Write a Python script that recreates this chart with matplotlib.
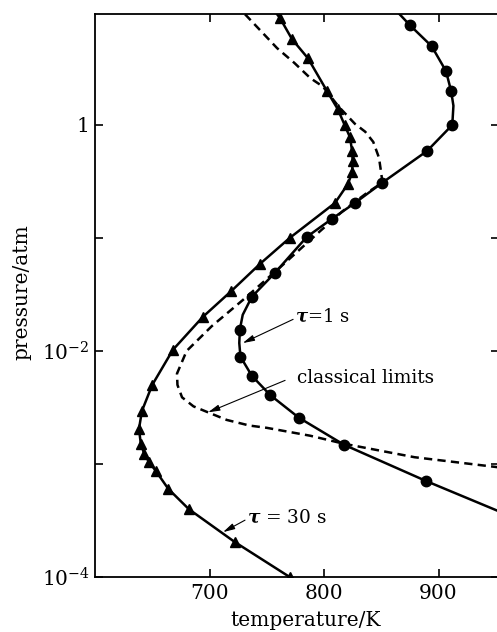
import matplotlib
matplotlib.use("Agg")
import matplotlib.pyplot as plt
import numpy as np

plt.rcParams["font.family"] = ["DejaVu Serif"]
plt.rcParams["mathtext.fontset"] = "dejavuserif"

# tau = 1 s curve: temperature / K and log10(pressure / atm)
t1_temp = [866, 875, 894, 906.5, 911, 913, 912, 890, 851, 827, 807, 785,
           757, 737, 729, 726.5, 726, 727, 737, 753, 778, 817.5, 889, 953]
t1_logp = [0.98, 0.883, 0.697, 0.477, 0.30, 0.17, 0.0, -0.23, -0.51, -0.69,
           -0.83, -0.99, -1.31, -1.52, -1.68, -1.81, -1.93, -2.05, -2.22,
           -2.39, -2.59, -2.83, -3.15, -3.42]
t1_marks = [1, 2, 3, 4, 6, 7, 8, 9, 10, 11, 12, 13, 15, 17, 18, 19, 20, 21, 22]

# tau = 30 s curve
t30_temp = [759, 761.6, 772, 786, 802.6, 812, 818, 822.7, 824.5, 825, 824.5,
            821, 809.6, 770, 744, 719, 694, 668, 650, 641, 638.4, 640, 643,
            647, 653, 664, 682, 722, 770]
t30_logp = [0.98, 0.945, 0.76, 0.59, 0.30, 0.14, 0.0, -0.11, -0.23, -0.32,
            -0.42, -0.52, -0.69, -1.0, -1.23, -1.47, -1.70, -1.99, -2.30,
            -2.53, -2.69, -2.82, -2.91, -2.98, -3.06, -3.22, -3.40, -3.69,
            -4.0]
t30_marks = list(range(1, len(t30_temp)))

# classical explosion limits
cl_temp = [731, 745, 759, 774, 788, 799, 813, 827, 836, 843, 848, 850, 851,
           837.6, 816.6, 796.5, 761.6, 729, 702, 680, 671.6, 672, 676, 686,
           698, 715, 735, 750, 788, 817, 879, 953]
cl_logp = [0.98, 0.83, 0.68, 0.55, 0.415, 0.34, 0.16, 0.01, -0.06, -0.15,
           -0.29, -0.43, -0.51, -0.60, -0.76, -0.94, -1.26, -1.55, -1.78,
           -2.0, -2.2, -2.3, -2.41, -2.49, -2.54, -2.61, -2.66, -2.68, -2.75,
           -2.82, -2.94, -3.03]

x_ticks = [700, 800, 900]
y_tick_exps = [-4, -3, -2, -1, 0]
y_tick_labels = ["$10^{-4}$", "", "$10^{-2}$", "", "1"]

W, H = 497, 632
fig = plt.figure(figsize=(W / 100, H / 100), dpi=100)
ax = fig.add_axes([95 / W, 55 / H, 404 / W, 563 / H])

ax.set_yscale("log")
ax.set_xlim(600, 952.8)
ax.set_ylim(1e-4, 10 ** 0.982)

lw = 1.8
ax.plot(t1_temp, 10 ** np.array(t1_logp), color="black", lw=lw,
        marker="o", markersize=7.5, markevery=t1_marks, zorder=3)
ax.plot(t30_temp, 10 ** np.array(t30_logp), color="black", lw=lw,
        marker="^", markersize=6.8, markevery=t30_marks, zorder=3)
ax.plot(cl_temp, 10 ** np.array(cl_logp), color="black", lw=lw,
        dashes=(3.3, 2.1), zorder=2)

# labels with pointer lines
arrow = dict(arrowstyle="-|>,head_length=0.7,head_width=0.18", lw=0.8,
             color="black", shrinkA=0, shrinkB=0)
ax.annotate("", xy=(729, 10 ** -1.93), xytext=(773, 10 ** -1.72),
            arrowprops=arrow)
ax.text(775, 10 ** -1.695, r"$\boldsymbol{\tau}$=1 s", ha="left",
        va="center", fontsize=13)
ax.annotate("", xy=(698.7, 10 ** -2.543), xytext=(766, 10 ** -2.26),
            arrowprops=arrow)
ax.text(776, 10 ** -2.243, "classical limits", ha="left", va="center",
        fontsize=13.3)
ax.annotate("", xy=(711.8, 10 ** -3.603), xytext=(731, 10 ** -3.497),
            arrowprops=arrow)
ax.text(733, 10 ** -3.479, r"$\boldsymbol{\tau}$ = 30 s", ha="left",
        va="center", fontsize=13.3)

# axes frame and ticks
for s in ax.spines.values():
    s.set_linewidth(1.3)
ax.set_xticks(x_ticks)
ax.set_xticklabels([str(v) for v in x_ticks])
ax.set_yticks([10.0 ** e for e in y_tick_exps])
ax.set_yticklabels(y_tick_labels)
ax.yaxis.set_minor_locator(matplotlib.ticker.NullLocator())
ax.tick_params(which="major", direction="in", top=True, right=True,
               length=6, width=1.2, labelsize=14.5)
ax.tick_params(axis="x", pad=5)
ax.tick_params(axis="y", pad=4)

fig.text(306 / W, 1 - 620 / H, "temperature/K", ha="center", va="center",
         fontsize=14.5)
fig.text(22 / W, 1 - 292 / H, "pressure/atm", ha="center", va="center",
         rotation=90, fontsize=14.5)

fig.savefig("out.png", dpi=100)
